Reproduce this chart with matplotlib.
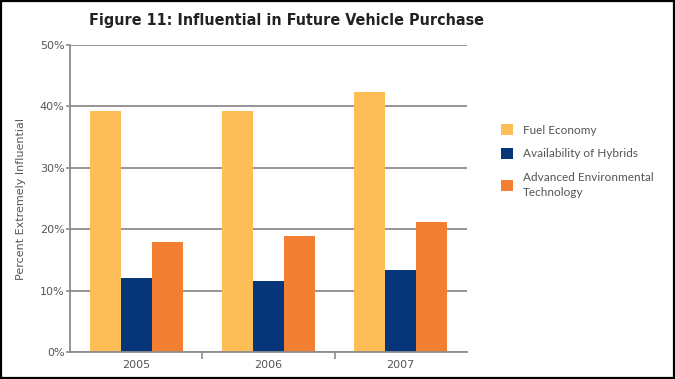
import matplotlib.pyplot as plt
import numpy as np
from matplotlib.patches import Rectangle

years = ['2005', '2006', '2007']
series_names = ['Fuel Economy', 'Availability of Hybrids',
                'Advanced Environmental\nTechnology']
fuel_economy = [39.3, 39.3, 42.4]
hybrids = [12.1, 11.5, 13.3]
env_tech = [18.0, 18.9, 21.2]
colors = ['#FDBD57', '#06357A', '#F37F33']
y_ticks = [0, 10, 20, 30, 40, 50]

grey = '#8c8c8c'
text_grey = '#555555'

fig = plt.figure(figsize=(6.75, 3.79), dpi=100)
ax = fig.add_axes([0.1037, 0.071, 0.588, 0.81])

x = np.arange(len(years))
w = 0.235
for i, vals in enumerate([fuel_economy, hybrids, env_tech]):
    ax.bar(x + (i - 1) * w, vals, width=w, color=colors[i],
           label=series_names[i], zorder=2)

ax.set_xlim(-0.5, 2.5)
ax.set_ylim(0, 50)
ax.set_yticks(y_ticks)
ax.set_yticklabels([f'{t}%' for t in y_ticks])
ax.yaxis.grid(True, color=grey, linewidth=1.3, zorder=0)
ax.set_axisbelow(True)

# category labels centred, ticks at boundaries
ax.set_xticks([0.5, 1.5])
ax.set_xticklabels([])
ax.set_xticks(x, minor=True)
ax.set_xticklabels(years, minor=True)
ax.tick_params(axis='x', which='minor', length=0, pad=6,
               labelsize=8, labelcolor=text_grey)
ax.tick_params(axis='x', which='major', length=5, width=1.2, color=grey,
               direction='out')
ax.tick_params(axis='y', length=3, width=1.2, color=grey, pad=1,
               labelsize=8, labelcolor=text_grey)

for s in ['top', 'right']:
    ax.spines[s].set_visible(False)
for s in ['left', 'bottom']:
    ax.spines[s].set_color(grey)
    ax.spines[s].set_linewidth(1.3)

ax.set_ylabel('Percent Extremely Influential', color=text_grey, fontsize=8,
              labelpad=10)

fig.text(0.425, 0.945, 'Figure 11: Influential in Future Vehicle Purchase',
         ha='center', va='center', fontsize=11.5, fontweight='bold',
         family=['DejaVu Sans Condensed', 'DejaVu Sans'],
         fontstretch='condensed', color='#222222')

leg = fig.legend(loc='upper left', bbox_to_anchor=(0.727, 0.70),
                 frameon=False, handlelength=1.0,
                 handleheight=1.0, labelspacing=1.05, handletextpad=0.8,
                 prop={'family': 'Lato', 'size': 8.5})
for t in leg.get_texts():
    t.set_color(text_grey)
    t.set_linespacing(1.45)

# black frame around the whole picture
fig.patches.append(Rectangle((0.0015, 0.0025), 0.997, 0.995,
                             transform=fig.transFigure, fill=False,
                             edgecolor='black', linewidth=1.6))

fig.savefig('out.png', dpi=100)
